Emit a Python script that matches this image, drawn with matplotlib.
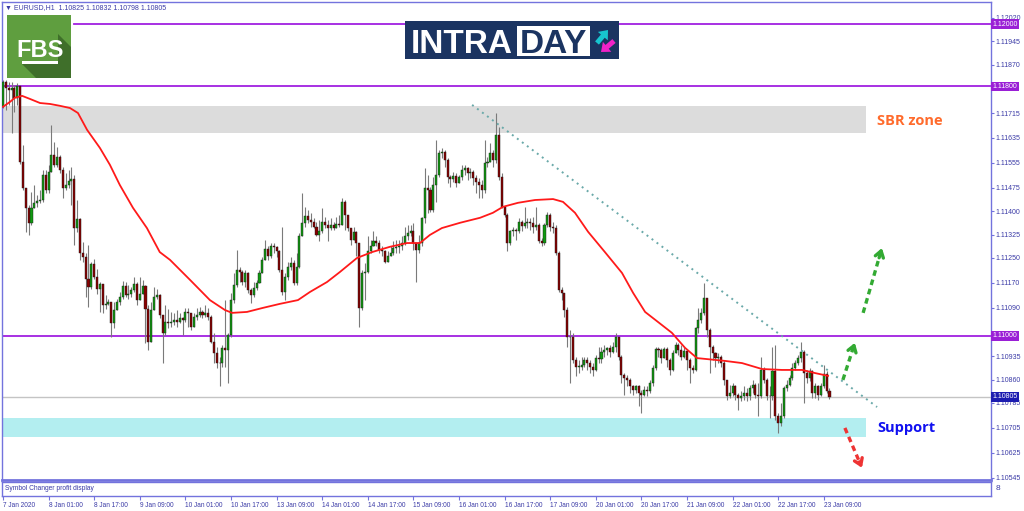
import numpy as np
import matplotlib
matplotlib.use('Agg')
import matplotlib.pyplot as plt
from matplotlib import patches

plt.rcParams['font.family'] = ['Liberation Sans', 'DejaVu Sans']

# ---------- data: EURUSD H1, prices in points above 1.10000 (1 pt = 0.00001) ----------
base = 1.1
open_first = 1735
close_pts = [
    1816, 1794, 1789, 1794, 1762, 1800, 1559, 1473, 1409, 1361,
    1409, 1425, 1433, 1436, 1516, 1468, 1527, 1580, 1548, 1575,
    1532, 1473, 1484, 1497, 1503, 1345, 1375, 1265, 1254, 1184,
    1158, 1232, 1190, 1152, 1165, 1099, 1104, 1109, 1040, 1083,
    1109, 1125, 1161, 1131, 1136, 1147, 1168, 1115, 1136, 1161,
    1088, 981, 1083, 1125, 1131, 1067, 1008, 1045, 1040, 1045,
    1051, 1046, 1057, 1051, 1078, 1073, 1030, 1062, 1067, 1078,
    1067, 1073, 1062, 982, 945, 912, 912, 961, 955, 1003,
    1116, 1164, 1212, 1206, 1174, 1201, 1148, 1132, 1153, 1171,
    1201, 1244, 1278, 1257, 1287, 1284, 1271, 1212, 1142, 1190,
    1222, 1233, 1171, 1222, 1319, 1361, 1385, 1372, 1367, 1351,
    1324, 1335, 1367, 1356, 1345, 1356, 1345, 1359, 1356, 1431,
    1388, 1345, 1308, 1332, 1297, 1089, 1201, 1206, 1271, 1287,
    1303, 1299, 1276, 1274, 1238, 1255, 1267, 1281, 1284, 1287,
    1297, 1319, 1329, 1338, 1297, 1276, 1297, 1377, 1474, 1468,
    1404, 1484, 1516, 1586, 1591, 1565, 1511, 1503, 1513, 1490,
    1511, 1532, 1538, 1522, 1527, 1506, 1495, 1484, 1468, 1554,
    1559, 1586, 1565, 1645, 1511, 1415,
    1388, 1297, 1335, 1340, 1335, 1367, 1353, 1361, 1367, 1361,
    1351, 1356, 1303, 1297, 1356, 1388, 1351, 1345, 1265, 1148,
    1137, 1084, 998, 998, 923, 902, 902, 907, 923, 912,
    902, 891, 929, 925, 950, 955, 961, 950, 966, 998,
    934, 875, 864, 859, 838, 827, 838, 816, 811, 827,
    822, 848, 896, 957, 955, 929, 957, 923, 891, 945,
    971, 955, 934, 953, 923, 897, 891, 1025, 1052, 1073,
    1121, 1020, 966, 945, 929, 934, 913, 859, 806, 817,
    838, 811, 800, 806, 816, 806, 832, 843, 811, 806,
    891, 859, 806, 806, 886, 742, 720, 742, 832, 843,
    864, 897, 913, 929, 950, 881, 865, 886, 816, 838,
    811, 838, 878, 825, 805,
]
high_pts = [
    1821, 1821, 1816, 1816, 1805, 1810, 1800, 1612, 1473, 1420,
    1462, 1484, 1452, 1468, 1532, 1532, 1548, 1677, 1623, 1607,
    1580, 1543, 1521, 1532, 1543, 1516, 1436, 1377, 1302, 1265,
    1291, 1238, 1248, 1216, 1174, 1152, 1131, 1120, 1109, 1109,
    1120, 1141, 1176, 1174, 1163, 1158, 1190, 1174, 1190, 1179,
    1163, 1099, 1109, 1158, 1152, 1136, 1067, 1099, 1088, 1077,
    1073, 1084, 1073, 1062, 1089, 1089, 1067, 1073, 1089, 1094,
    1084, 1099, 1089, 1067, 1009, 966, 934, 971, 1116, 1009,
    1137, 1201, 1276, 1222, 1212, 1212, 1206, 1153, 1174, 1180,
    1212, 1254, 1308, 1287, 1297, 1297, 1289, 1276, 1351, 1201,
    1238, 1254, 1244, 1265, 1329, 1458, 1415, 1404, 1394, 1377,
    1367, 1372, 1410, 1383, 1372, 1377, 1367, 1383, 1388, 1442,
    1436, 1372, 1345, 1351, 1335, 1297, 1212, 1233, 1319, 1308,
    1335, 1319, 1308, 1287, 1276, 1271, 1287, 1303, 1308, 1308,
    1319, 1351, 1356, 1356, 1361, 1297, 1324, 1383, 1538, 1516,
    1479, 1511, 1629, 1597, 1602, 1597, 1570, 1516, 1527, 1522,
    1516, 1548, 1548, 1543, 1538, 1532, 1516, 1506, 1500, 1629,
    1575, 1618, 1597, 1714, 1671, 1522,
    1415, 1394, 1340, 1351, 1345, 1377, 1372, 1415, 1377, 1377,
    1383, 1415, 1361, 1313, 1361, 1399, 1394, 1367, 1356, 1271,
    1158, 1116, 1094, 1019, 1009, 934, 923, 934, 934, 934,
    923, 912, 939, 966, 966, 971, 966, 971, 982, 1009,
    998, 939, 880, 875, 864, 843, 843, 843, 827, 838,
    838, 859, 907, 966, 966, 961, 966, 966, 929, 955,
    982, 977, 971, 966, 955, 929, 907, 1030, 1089, 1089,
    1169, 1121, 1025, 971, 950, 945, 939, 923, 859, 843,
    849, 843, 816, 822, 838, 832, 843, 859, 849, 849,
    934, 902, 865, 838, 966, 971, 752, 784, 838, 859,
    875, 913, 923, 939, 982, 955, 891, 897, 891, 849,
    843, 849, 907, 886, 832,
]
low_pts = [
    1730, 1725, 1741, 1650, 1719, 1741, 1553, 1468, 1334, 1323,
    1356, 1409, 1414, 1425, 1430, 1457, 1457, 1527, 1543, 1543,
    1521, 1441, 1468, 1473, 1420, 1291, 1334, 1243, 1238, 1126,
    1093, 1152, 1184, 1136, 1077, 1072, 1088, 1099, 997, 1024,
    1088, 1099, 1120, 1126, 1120, 1126, 1142, 1099, 1120, 1142,
    976, 954, 1024, 1083, 1120, 1056, 912, 1002, 1024, 1029,
    1035, 1030, 1041, 1003, 1046, 1030, 1019, 1046, 1051, 1062,
    1057, 1062, 1051, 977, 912, 896, 838, 902, 902, 848,
    998, 1105, 1158, 1174, 1164, 1158, 1137, 1105, 1126, 1148,
    1169, 1222, 1244, 1244, 1249, 1265, 1254, 1206, 1132, 1116,
    1180, 1212, 1164, 1164, 1217, 1345, 1351, 1361, 1351, 1345,
    1319, 1303, 1329, 1345, 1303, 1340, 1340, 1345, 1351, 1356,
    1340, 1335, 1292, 1319, 1255, 1030, 1084, 1116, 1201, 1265,
    1287, 1287, 1265, 1255, 1233, 1238, 1255, 1260, 1265, 1265,
    1276, 1292, 1308, 1319, 1276, 1174, 1265, 1287, 1361, 1394,
    1399, 1399, 1431, 1511, 1570, 1543, 1490, 1479, 1495, 1479,
    1490, 1500, 1516, 1500, 1506, 1484, 1458, 1442, 1442, 1458,
    1543, 1565, 1543, 1554, 1500, 1410,
    1383, 1271, 1292, 1319, 1308, 1329, 1335, 1345, 1345, 1340,
    1329, 1340, 1297, 1287, 1292, 1351, 1335, 1329, 1260, 1142,
    1116, 1062, 966, 848, 912, 870, 880, 891, 902, 891,
    880, 870, 886, 912, 912, 934, 939, 934, 945, 950,
    923, 848, 811, 838, 816, 811, 816, 774, 752, 806,
    806, 816, 838, 891, 934, 912, 934, 902, 875, 886,
    950, 939, 923, 929, 891, 849, 881, 886, 1009, 1041,
    1068, 998, 881, 923, 902, 913, 902, 843, 795, 800,
    806, 795, 763, 790, 795, 790, 795, 816, 800, 742,
    800, 849, 795, 736, 795, 731, 688, 710, 736, 822,
    838, 859, 891, 907, 918, 784, 849, 854, 800, 800,
    795, 806, 832, 816, 798,
]

# moving average (bar index, points)
ma_bar = [0, 2.5, 4.2, 6.7, 9.5, 13, 16.5, 20, 23.5, 26.3, 29.5, 34, 37.5, 41, 45.6,
          50.5, 55, 58.6, 65.6, 72.6, 77.9, 80.4, 85.6, 91.2, 97.2, 103.5, 107.7,
          113.7, 118.2, 124.2, 129.5, 135.8, 141.8, 146.3, 149.8, 154, 160.4, 167.4,
          171.9, 175.4, 180.7, 186.7, 193, 196.5, 200.7, 205.3, 211.2, 217.2, 221.1,
          225.3, 229.8, 234.7, 239.3, 243.5, 253.3, 259.3, 266.3, 273.3, 280.4,
          284.9, 289.5]
ma_pts = [1735, 1751, 1764, 1770, 1760, 1747, 1744, 1738, 1731, 1715, 1661, 1603, 1549,
          1484, 1411, 1346, 1269, 1244, 1180, 1115, 1083, 1074, 1077, 1090, 1103, 1115,
          1141, 1173, 1205, 1250, 1269, 1286, 1298, 1298, 1324, 1346, 1363, 1379, 1395,
          1414, 1427, 1436, 1439, 1430, 1395, 1334, 1269, 1202, 1138, 1077, 1045, 1010,
          962, 929, 920, 913, 894, 891, 891, 881, 872]

ytick_vals = [1.12020, 1.11945, 1.11870, 1.11795, 1.11715, 1.11635, 1.11555, 1.11475,
              1.11400, 1.11325, 1.11250, 1.11170, 1.11090, 1.11010, 1.10935, 1.10860,
              1.10785, 1.10705, 1.10625, 1.10545]
hidden_ticks = [1.11795, 1.11010]   # covered by the level price boxes
time_labels = ['7 Jan 2020', '8 Jan 01:00', '8 Jan 17:00', '9 Jan 09:00', '10 Jan 01:00',
               '10 Jan 17:00', '13 Jan 09:00', '14 Jan 01:00', '14 Jan 17:00',
               '15 Jan 09:00', '16 Jan 01:00', '16 Jan 17:00', '17 Jan 09:00',
               '20 Jan 01:00', '20 Jan 17:00', '21 Jan 09:00', '22 Jan 01:00',
               '22 Jan 17:00', '23 Jan 09:00']
bars_per_label = 16

levels = [1.12000, 1.11800, 1.11000]
level_start = [24.9, -0.35, -0.35]
last_price = 1.10805
sbr_zone = (1.11651, 1.11738)
support_zone = (1.10676, 1.10737)
zone_end = 302.8
trend = [(164.6, 1.11741), (306.7, 1.10772)]

# ---------- figure ----------
W, H = 1024, 511
fig = plt.figure(figsize=(W / 100, H / 100), dpi=100)
frame = '#7373dd'
txtc = '#3a3aa6'
purple = '#a020e0'

ax = fig.add_axes([2 / W, 1 - 480 / H, 989 / W, 478 / H])
sub = fig.add_axes([2 / W, 1 - 496 / H, 989 / W, 14.5 / H], sharex=ax)

xlim = (-0.35, 346.67)
ax.set_xlim(*xlim)
ax.set_ylim(1.10538, 1.12071)

n = len(close_pts)
x = np.arange(n)
c = base + np.array(close_pts) * 1e-5
o = base + np.array([open_first] + close_pts[:-1]) * 1e-5
h = base + np.array(high_pts) * 1e-5
l = base + np.array(low_pts) * 1e-5
top = np.maximum.reduce([h, o, c])
bot = np.minimum.reduce([l, o, c])

# zones
ax.add_patch(patches.Rectangle((xlim[0], sbr_zone[0]), zone_end - xlim[0],
                               sbr_zone[1] - sbr_zone[0], fc='#dcdcdc', ec='none', zorder=1))
ax.add_patch(patches.Rectangle((xlim[0], support_zone[0]), zone_end - xlim[0],
                               support_zone[1] - support_zone[0], fc='#b3eef0', ec='none', zorder=1))

# horizontal levels
for lv, xs in zip(levels, level_start):
    ax.plot([xs, xlim[1]], [lv, lv], color=purple, lw=1.3, zorder=2)
ax.axhline(last_price, color='#c4c4c4', lw=1.0, zorder=2)

# candles
ax.vlines(x, bot, top, color='#7a7a7a', lw=0.8, zorder=3)
up = c >= o
body_col = np.where(up, '#119911', '#880000')
ax.bar(x, np.where(np.abs(c - o) < 1e-6, 1e-6, c - o), bottom=o, width=0.72,
       color=body_col, edgecolor='#1a1a1a', linewidth=0.3, zorder=4)

# moving average
ax.plot(ma_bar, base + np.array(ma_pts) * 1e-5, color='#ff1a1a', lw=1.3, zorder=5)

# trend line
ax.plot([trend[0][0], trend[1][0]], [trend[0][1], trend[1][1]], color='#6aa9a9',
        lw=1.4, ls=(0, (1, 2.2)), zorder=5)


def dashed_arrow(tail, head, color):
    tx, ty = tail
    hx, hy = head
    bx, by = hx - 0.15 * (hx - tx), hy - 0.15 * (hy - ty)
    ax.plot([tx, bx], [ty, by], color=color, lw=2.4, ls=(0, (1.7, 1.2)),
            solid_capstyle='butt', zorder=6)
    ax.annotate('', xy=(hx, hy), xytext=(bx, by),
                arrowprops=dict(arrowstyle='->,head_length=0.45,head_width=0.3',
                                color=color, lw=2.4, shrinkA=0, shrinkB=0), zorder=6)


dashed_arrow((301.8, 1.11074), (308.4, 1.11282), '#33aa33')
dashed_arrow((294.7, 1.10859), (298.9, 1.10978), '#33aa33')
dashed_arrow((295.4, 1.10705), (301.4, 1.10577), '#ee3333')

# right price axis
ax.yaxis.tick_right()
ax.set_yticks(ytick_vals)
ax.set_yticklabels(['' if v in hidden_ticks else f'{v:.5f}' for v in ytick_vals])
ax.tick_params(axis='y', labelsize=5, colors=frame, labelcolor=txtc, length=2, width=0.8, pad=1.5)
ax.tick_params(axis='x', bottom=False, labelbottom=False)
for lv in levels:
    ax.text(1.0015, lv, f'{lv:.5f}', transform=ax.get_yaxis_transform(), fontsize=5,
            color='white', va='center', ha='left', clip_on=False, zorder=20,
            bbox=dict(boxstyle='square,pad=0.2', fc='#9a1fd6', ec='none'))
ax.text(1.0015, last_price, f'{last_price:.5f}', transform=ax.get_yaxis_transform(),
        fontsize=5, color='white', va='center', ha='left', clip_on=False, zorder=20,
        bbox=dict(boxstyle='square,pad=0.2', fc='#1c1cb0', ec='none'))

for side in ['top', 'left', 'right']:
    ax.spines[side].set_color(frame)
    ax.spines[side].set_linewidth(1.0)
ax.spines['bottom'].set_color(frame)
ax.spines['bottom'].set_linewidth(2.0)

# sub window + time axis
sub.set_ylim(0, 1)
sub.set_yticks([])
sub.set_xticks(np.arange(len(time_labels)) * bars_per_label)
sub.set_xticklabels(time_labels)
sub.tick_params(axis='x', labelsize=4.7, colors=frame, labelcolor=txtc, length=3, width=0.8, pad=1.5)
for lab in sub.get_xticklabels():
    lab.set_ha('left')
for s in sub.spines.values():
    s.set_color(frame)
    s.set_linewidth(1.0)
sub.text(0.003, 0.5, 'Symbol Changer profit display', transform=sub.transAxes,
         fontsize=4.8, color=txtc, va='center', ha='left')

# ---------- overlay: header, logos, labels ----------
ov = fig.add_axes([0, 0, 1, 1], zorder=10)
ov.set_xlim(0, W)
ov.set_ylim(H, 0)
ov.axis('off')
ov.patch.set_alpha(0)

ov.text(5, 7.5, '\u25bc EURUSD,H1  1.10825 1.10832 1.10798 1.10805', fontsize=5,
        color=txtc, va='center', ha='left')
ov.text(996, 488, '8', fontsize=6, color=txtc, va='center', ha='left')

# FBS logo
ov.add_patch(patches.Rectangle((7, 15), 64, 63, fc='#5f9e3f', ec='none'))
ov.add_patch(patches.Polygon([(58, 34), (71, 47), (71, 78), (36, 78), (22, 64), (58, 64)],
                             closed=True, fc='#3f6f2a', ec='none'))
ov.text(40, 57, 'FBS', color='white', fontsize=17, fontweight='bold',
        family=['Liberation Sans Narrow', 'Liberation Sans'], ha='center', va='baseline')
ov.add_patch(patches.Rectangle((22, 61), 36, 3, fc='white', ec='none'))

# INTRADAY logo
navy = '#1b3461'
ov.add_patch(patches.Rectangle((405, 21), 214, 38, fc=navy, ec='none'))
ov.add_patch(patches.Rectangle((517, 26), 73, 30, fc='white', ec='none'))
ov.text(411, 53, 'INTRA', color='white', fontsize=24, fontweight='bold', va='baseline', ha='left')
ov.text(553.5, 53, 'DAY', color=navy, fontsize=24, fontweight='bold', va='baseline', ha='center')
ov.add_patch(patches.FancyArrow(597, 43, 11, -13, width=5, head_width=13, head_length=8,
                                length_includes_head=True, fc='#17c5cf', ec='none'))
ov.add_patch(patches.FancyArrow(614, 41, -13, 11, width=5, head_width=13, head_length=8,
                                length_includes_head=True, fc='#f022c8', ec='none'))

# zone labels
ov.text(877, 121, 'SBR zone', color='#ff6b2c', fontsize=10.5, fontweight='bold',
        family=['Open Sans', 'DejaVu Sans'], va='center', ha='left')
ov.text(877, 428, 'Support', color='#1010f0', fontsize=10.5, fontweight='bold',
        family=['Open Sans', 'DejaVu Sans'], va='center', ha='left')

fig.savefig('out.png', dpi=100, facecolor='white')
